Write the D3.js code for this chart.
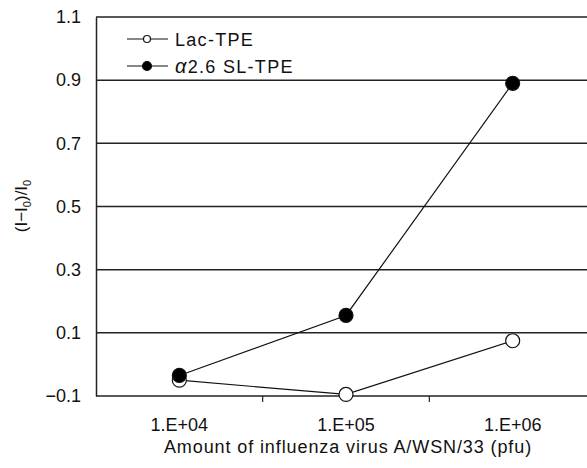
<!DOCTYPE html>
<html><head><meta charset="utf-8">
<script src="https://cdn.jsdelivr.net/npm/d3@7"></script>
<style>body{margin:0;background:#fff;overflow:hidden}svg{display:block}text{font-family:"Liberation Sans","Noto Sans",sans-serif;fill:#111}</style>
</head><body>
<script>
const categories = ["1.E+04", "1.E+05", "1.E+06"];
const lacTPE = [-0.05, -0.095, 0.075];
const slTPE = [-0.035, 0.155, 0.89];
const yTicks = [-0.1, 0.1, 0.3, 0.5, 0.7, 0.9, 1.1];
const seriesNames = ["Lac-TPE", "\u03B12.6 SL-TPE"];

const W = 587, H = 468;
const m = {left: 96, top: 17, right: -9, bottom: 72};
const svg = d3.select("body").append("svg").attr("width", W).attr("height", H);
const x = d3.scaleBand().domain(categories).range([m.left, W - m.right]);
const y = d3.scaleLinear().domain([-0.1, 1.1]).range([H - m.bottom, m.top]);

// gridlines
svg.append("g").selectAll("line").data(yTicks).join("line")
  .attr("x1", m.left).attr("x2", W - m.right)
  .attr("y1", d => y(d)).attr("y2", d => y(d))
  .attr("stroke", "#222").attr("stroke-width", 1.5);

// y axis
const ya = svg.append("g").attr("transform", `translate(${m.left},0)`)
  .call(d3.axisLeft(y).tickValues(yTicks).tickSize(0).tickPadding(15).tickFormat(d => d < 0 ? "\u2212" + Math.abs(d).toFixed(1) : d.toFixed(1)));
ya.select(".domain").attr("stroke", "#222").attr("stroke-width", 1.5);
ya.selectAll("text").attr("font-size", 18);

// x axis
const xa = svg.append("g").attr("transform", `translate(0,${y(-0.1)})`)
  .call(d3.axisBottom(x).tickSize(0).tickPadding(22));
xa.select(".domain").remove();
xa.selectAll("text").attr("font-size", 18);
// category boundary ticks
const bounds = categories.slice(1).map(c => x(c));
svg.append("g").selectAll("line").data(bounds).join("line")
  .attr("x1", d => d).attr("x2", d => d)
  .attr("y1", y(-0.1)).attr("y2", y(-0.1) + 6)
  .attr("stroke", "#222").attr("stroke-width", 1.2);

const cx = c => x(c) + x.bandwidth() / 2;
const line = d3.line().x((d, i) => cx(categories[i])).y(d => y(d));

function drawSeries(vals, fill) {
  svg.append("path").datum(vals).attr("d", line).attr("fill", "none").attr("stroke", "#111").attr("stroke-width", 1.2);
  svg.append("g").selectAll("circle").data(vals).join("circle")
    .attr("cx", (d, i) => cx(categories[i])).attr("cy", d => y(d)).attr("r", 7)
    .attr("fill", fill).attr("stroke", "#111").attr("stroke-width", 1.2);
}
drawSeries(lacTPE, "#fff");
drawSeries(slTPE, "#000");

// legend
const lg = svg.append("g");
[["#fff", 0], ["#000", 1]].forEach(([f, i]) => {
  const yy = 39 + i * 27;
  lg.append("line").attr("x1", 127).attr("x2", 168).attr("y1", yy).attr("y2", yy).attr("stroke", "#111").attr("stroke-width", 1.2);
  lg.append("circle").attr("cx", 147).attr("cy", yy).attr("r", i ? 4.5 : 3.5).attr("fill", f).attr("stroke", "#111").attr("stroke-width", 1.2);
  const t = lg.append("text").attr("x", 175).attr("y", yy + 7).attr("font-size", 18).attr("letter-spacing", 1.3);
  if (i) {
    t.append("tspan").attr("font-style", "italic").attr("font-size", 20).text("\u03B1");
    t.append("tspan").text("2.6 SL-TPE");
  } else t.text(seriesNames[0]);
});

// axis titles
svg.append("text").attr("x", 348).attr("y", 453).attr("text-anchor", "middle").attr("font-size", 18).attr("letter-spacing", 0.9)
  .text("Amount of influenza virus A/WSN/33 (pfu)");
const yt = svg.append("text").attr("transform", "translate(27,206) rotate(-90)").attr("text-anchor", "middle").attr("font-size", 17);
yt.append("tspan").text("(I\u2212I");
yt.append("tspan").attr("font-size", 11).attr("dy", 4).text("0");
yt.append("tspan").attr("dy", -4).text(")/I");
yt.append("tspan").attr("font-size", 11).attr("dy", 4).text("0");
</script>
</body></html>
